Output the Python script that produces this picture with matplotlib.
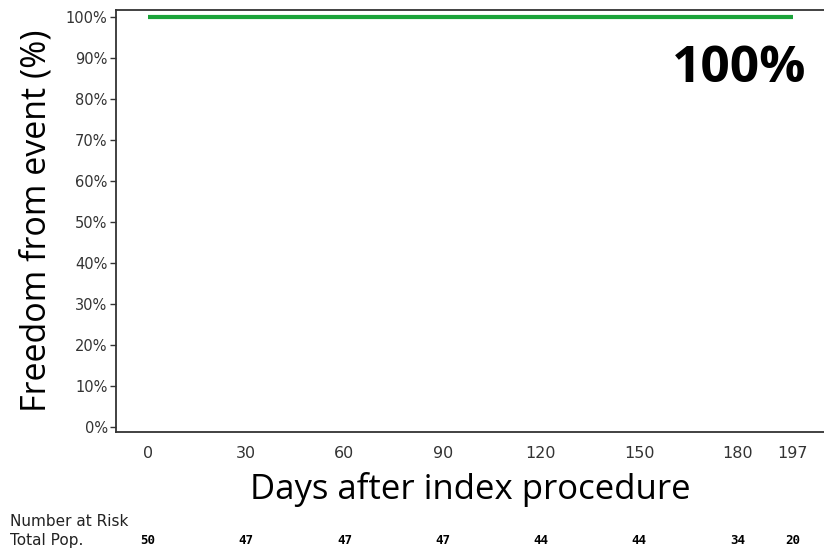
import matplotlib.pyplot as plt
import matplotlib.transforms as mtransforms

days = [0, 197]
freedom = [100, 100]
x_ticks = [0, 30, 60, 90, 120, 150, 180, 197]
y_ticks = [0, 10, 20, 30, 40, 50, 60, 70, 80, 90, 100]
risk_days = [0, 30, 60, 90, 120, 150, 180, 197]
at_risk = [50, 47, 47, 47, 44, 44, 34, 20]


def main():
    fig = plt.figure(figsize=(8.24, 5.5), dpi=100)
    ax = fig.add_axes([0.1408, 0.2145, 0.8592, 0.7673])

    ax.plot(days, freedom, color="#1ba33a", linewidth=3, solid_capstyle="butt")

    ax.set_xlim(-9.8, 206.5)
    ax.set_ylim(-1.2, 101.7)
    ax.set_xticks(x_ticks)
    ax.set_xticklabels([str(d) for d in x_ticks])
    ax.set_yticks(y_ticks)
    ax.set_yticklabels([f"{v}%" for v in y_ticks])

    ax.tick_params(axis="x", length=0, pad=10, labelsize=11.5, labelcolor="#333333")
    ax.tick_params(axis="y", length=4, width=1, pad=2, labelsize=10.5,
                   labelcolor="#333333", color="#333333")

    ax.spines["right"].set_visible(False)
    for s in ["left", "bottom", "top"]:
        ax.spines[s].set_color("#333333")
        ax.spines[s].set_linewidth(1.3)

    ax.set_xlabel("Days after index procedure", family="Open Sans", fontsize=25, labelpad=8)
    ax.set_ylabel("Freedom from event (%)", family="Open Sans", fontsize=24.5, labelpad=9)

    ax.text(0.9755, 0.86, "100%", transform=ax.transAxes, ha="right", va="center",
            family="Open Sans", fontweight="bold", fontstretch="normal", fontsize=37)

    fig.text(10 / 824, 1 - 521 / 550, "Number at Risk", fontsize=11, color="#222222",
             va="center", ha="left")
    fig.text(10 / 824, 1 - 541 / 550, "Total Pop.", fontsize=11, color="#222222",
             va="center", ha="left")

    trans = mtransforms.blended_transform_factory(ax.transData, fig.transFigure)
    for d, n in zip(risk_days, at_risk):
        ax.text(d, 1 - 541 / 550, str(n), transform=trans, ha="center", va="center",
                family="DejaVu Sans Mono", fontweight="bold", fontsize=9, clip_on=False)

    plt.savefig("out.png", dpi=100)


if __name__ == "__main__":
    main()
